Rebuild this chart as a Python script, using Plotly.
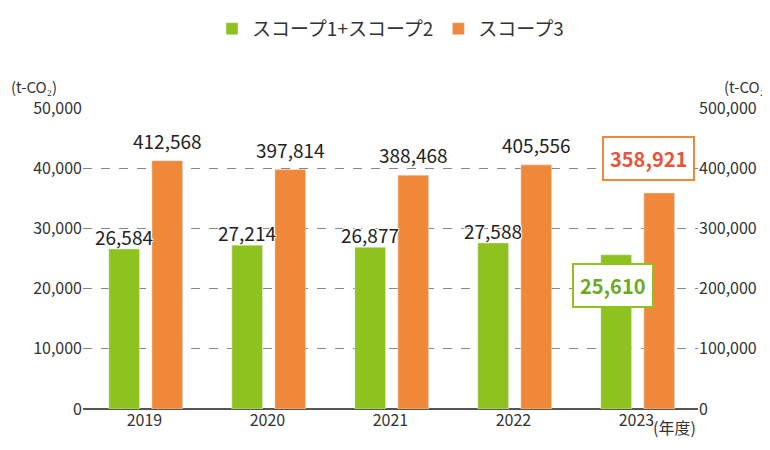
from plotly import graph_objects as go

years = ['2019', '2020', '2021', '2022', '2023']
scope12 = [26584, 27214, 26877, 27588, 25610]
scope3 = [412568, 397814, 388468, 405556, 358921]

GREEN = '#8dc21f'
ORANGE = '#f0883a'
FONT = 'Noto Sans CJK JP'
xs = list(range(len(years)))

fig = go.Figure()
fig.add_trace(go.Bar(
  x=xs, y=scope12, name='スコープ1+スコープ2',
  marker_color=GREEN, width=0.25, offset=-0.29, yaxis='y'
))
fig.add_trace(go.Bar(
  x=xs, y=scope3, name='スコープ3',
  marker_color=ORANGE, width=0.25, offset=0.06, yaxis='y2'
))

# value labels with white halo
halo = 'white 1px 1px 0px, white -1px -1px 0px, white 1px -1px 0px, white -1px 1px 0px'
for i in xs[:-1]:
  fig.add_annotation(x=i - 0.17, y=scope12[i], yanchor='bottom', yshift=-3,
    text=f'{scope12[i]:,}', showarrow=False,
    font=dict(size=19, color='#222', shadow=halo))
  fig.add_annotation(x=i + 0.19, y=scope3[i], yref='y2', yanchor='bottom', yshift=5,
    text=f'{scope3[i]:,}', showarrow=False,
    font=dict(size=19, color='#222', shadow=halo))

# 2023 callouts
fig.add_annotation(x=4 - 0.19, y=scope12[4], yanchor='top', yshift=-8,
  text=f'<b>{scope12[4]:,}</b>', showarrow=False, bgcolor='white',
  bordercolor=GREEN, borderwidth=2, borderpad=6,
  font=dict(size=20, color='#6aab1e'))
fig.add_annotation(x=4 + 0.1, y=scope3[4], yref='y2', yanchor='bottom', yshift=12,
  text=f'<b>{scope3[4]:,}</b>', showarrow=False, bgcolor='white',
  bordercolor=ORANGE, borderwidth=2, borderpad=6,
  font=dict(size=20, color='#e8553a'))

# units
fig.add_annotation(xref='paper', yref='paper', x=-0.12, y=1.03, xanchor='left', yanchor='bottom',
  text='(t-CO₂)', showarrow=False, font=dict(size=15, color='#333'))
fig.add_annotation(xref='paper', yref='paper', x=1.12, y=1.03, xanchor='right', yanchor='bottom',
  text='(t-CO₂)', showarrow=False, font=dict(size=15, color='#333'))
fig.add_annotation(xref='paper', yref='paper', x=1.0, y=0, xanchor='right', yanchor='top', yshift=-4,
  text='(年度)', showarrow=False, font=dict(size=16, color='#333'))

fig.update_layout(
  width=770, height=450,
  margin=dict(l=75, r=80, t=100, b=49, autoexpand=False),
  plot_bgcolor='white', paper_bgcolor='white',
  font=dict(family=FONT, size=16, color='#333'),
  showlegend=True,
  legend=dict(orientation='h', x=0.5, xanchor='center', y=1.2, yanchor='bottom',
              font=dict(size=19), itemwidth=30),
  xaxis=dict(range=[-0.5, 4.5], tickvals=xs, ticktext=years, showline=False,
             showgrid=False, zeroline=False, ticks='', tickfont=dict(size=16)),
  yaxis=dict(range=[0, 50000], dtick=10000, tickformat=',', showgrid=True,
             gridcolor='#888', griddash='dash', zeroline=True, zerolinecolor='#555',
             ticks='', tickfont=dict(size=16)),
  yaxis2=dict(range=[0, 500000], dtick=100000, tickformat=',', overlaying='y',
              side='right', showgrid=False, zeroline=False, ticks='',
              tickfont=dict(size=16)),
)

fig.write_html('out.html')
